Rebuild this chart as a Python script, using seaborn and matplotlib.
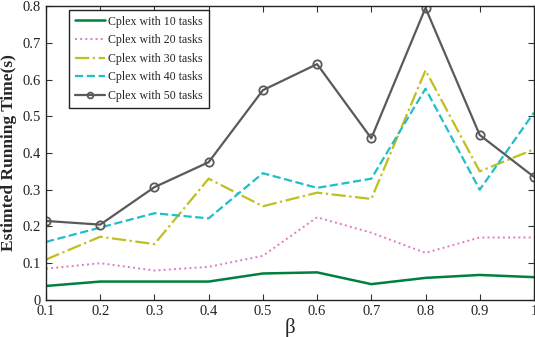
import matplotlib
matplotlib.use("Agg")
import matplotlib.pyplot as plt
import seaborn as sns
import pandas as pd

beta = [0.1, 0.2, 0.3, 0.4, 0.5, 0.6, 0.7, 0.8, 0.9, 1.0]
t10 = [0.038, 0.050, 0.050, 0.050, 0.072, 0.075, 0.043, 0.060, 0.068, 0.062]
t20 = [0.085, 0.100, 0.080, 0.090, 0.120, 0.225, 0.183, 0.128, 0.170, 0.170]
t30 = [0.110, 0.172, 0.152, 0.330, 0.255, 0.292, 0.275, 0.625, 0.350, 0.410]
t40 = [0.158, 0.197, 0.236, 0.222, 0.345, 0.305, 0.330, 0.575, 0.300, 0.510]
t50 = [0.215, 0.205, 0.307, 0.375, 0.571, 0.642, 0.440, 0.795, 0.449, 0.335]
labels = ["Cplex with 10 tasks", "Cplex with 20 tasks", "Cplex with 30 tasks",
          "Cplex with 40 tasks", "Cplex with 50 tasks"]

sns.set_style("ticks")
plt.rcParams['font.family'] = ['Liberation Serif', 'DejaVu Serif']
plt.rcParams['mathtext.fontset'] = 'stix'

fig = plt.figure(figsize=(5.35, 3.37), dpi=100)
ax = fig.add_axes([0.086, 0.11, 0.912, 0.872])

series = [t10, t20, t30, t40, t50]
colors = ["#00803c", "#e07ac8", "#bfbf1f", "#1fbfc8", "#5a5a5a"]
styles = ["-", ":", "-.", "--", "-"]
widths = [1.8, 1.4, 1.6, 1.6, 1.6]
for vals, lab, c, ls, lw in zip(series, labels, colors, styles, widths):
    df = pd.DataFrame({"beta": beta, "v": vals})
    kw = {}
    if lab.endswith("50 tasks"):
        kw = dict(marker="o", markersize=6, markerfacecolor="none",
                  markeredgecolor=c, markeredgewidth=1.3)
    sns.lineplot(data=df, x="beta", y="v", ax=ax, color=c, linestyle=ls,
                 linewidth=lw, label=lab, **kw)

ax.set_xlim(0.1, 1.0)
ax.set_ylim(0, 0.8)
ax.set_xticks([0.1, 0.2, 0.3, 0.4, 0.5, 0.6, 0.7, 0.8, 0.9, 1.0])
ax.set_xticklabels(["0.1", "0.2", "0.3", "0.4", "0.5", "0.6", "0.7", "0.8", "0.9", "1"])
ax.set_yticks([0, 0.1, 0.2, 0.3, 0.4, 0.5, 0.6, 0.7, 0.8])
ax.set_yticklabels(["0", "0.1", "0.2", "0.3", "0.4", "0.5", "0.6", "0.7", "0.8"])
ax.tick_params(direction="in", top=True, right=True, labelsize=10.5, length=4,
               colors="#333333", labelcolor="#222222")
for s in ax.spines.values():
    s.set_visible(True)
    s.set_color("#222222")
    s.set_linewidth(1.0)
ax.set_xlabel("β", fontsize=15, labelpad=0)
ax.set_ylabel("Estimted Running Time(s)", fontsize=12.5, fontweight="bold", labelpad=4)

leg = ax.legend(loc="upper left", bbox_to_anchor=(0.048, 0.988), fontsize=8.6,
                frameon=True, fancybox=False, edgecolor="#222222",
                handlelength=2.5, handletextpad=0.25, labelspacing=0.55,
                borderpad=0.5, borderaxespad=0, framealpha=1, markerscale=0.7)
leg.get_frame().set_linewidth(1.0)

fig.savefig("out.png", dpi=100)
